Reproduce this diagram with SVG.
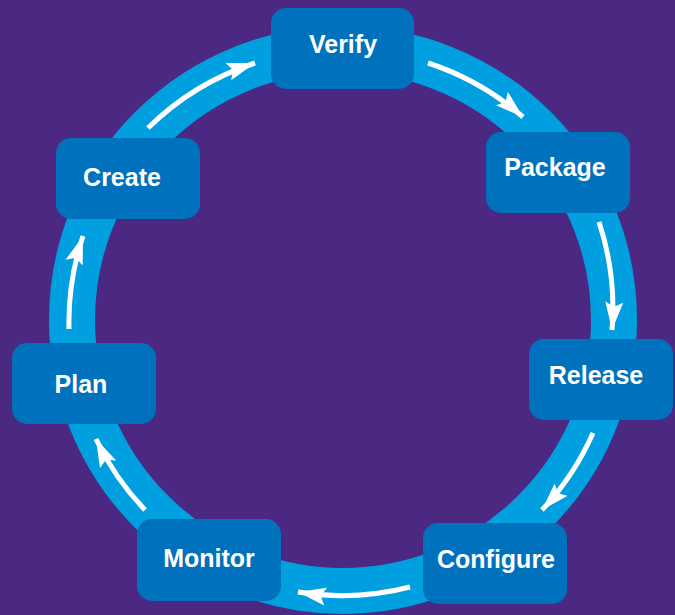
<svg xmlns="http://www.w3.org/2000/svg" width="675" height="615" viewBox="0 0 675 615">
  <defs>
    <marker id="ah" markerUnits="userSpaceOnUse" markerWidth="30" markerHeight="20" viewBox="0 0 30 20" refX="28" refY="10" orient="auto">
      <path d="M0,1 L28,10 L0,19 L5,10 z" fill="#ffffff"/>
    </marker>
  </defs>
  <style>
    .node rect { fill: #0071BC; }
    .node text { fill: #ffffff; font-family: "Liberation Sans", Arial, sans-serif; font-weight: bold; font-size: 25px; text-anchor: middle; }
    .flow { fill: none; stroke: #ffffff; stroke-width: 5; marker-end: url(#ah); }
  </style>
  <rect x="0" y="0" width="675" height="615" fill="#4B2882"/>
  <circle cx="343" cy="320" r="271" fill="none" stroke="#009FDF" stroke-width="46"/>
  <g id="connectors">
    <path class="flow" d="M148,128 A273,273 0 0 1 255,63"/>
    <path class="flow" d="M428,63 A273,273 0 0 1 523,117"/>
    <path class="flow" d="M599,222 A273,273 0 0 1 612,330"/>
    <path class="flow" d="M593,433 A273,273 0 0 1 542,510"/>
    <path class="flow" d="M410,587 A273,273 0 0 1 298,592"/>
    <path class="flow" d="M145,510 A273,273 0 0 1 96,439"/>
    <path class="flow" d="M69,329 A273,273 0 0 1 83,236"/>
  </g>
  <g id="verify" class="node">
    <rect x="271" y="8" width="143" height="81" rx="15"/>
    <text x="343" y="53">Verify</text>
  </g>
  <g id="package" class="node">
    <rect x="486" y="132" width="144" height="81" rx="15"/>
    <text x="555" y="176">Package</text>
  </g>
  <g id="release" class="node">
    <rect x="529" y="339" width="144" height="81" rx="15"/>
    <text x="596" y="384">Release</text>
  </g>
  <g id="configure" class="node">
    <rect x="423" y="523" width="144" height="81" rx="15"/>
    <text x="496" y="568">Configure</text>
  </g>
  <g id="monitor" class="node">
    <rect x="137" y="519" width="144" height="82" rx="15"/>
    <text x="209" y="567">Monitor</text>
  </g>
  <g id="plan" class="node">
    <rect x="12" y="343" width="144" height="81" rx="15"/>
    <text x="81" y="393">Plan</text>
  </g>
  <g id="create" class="node">
    <rect x="56" y="138" width="144" height="81" rx="15"/>
    <text x="122" y="186">Create</text>
  </g>
</svg>
